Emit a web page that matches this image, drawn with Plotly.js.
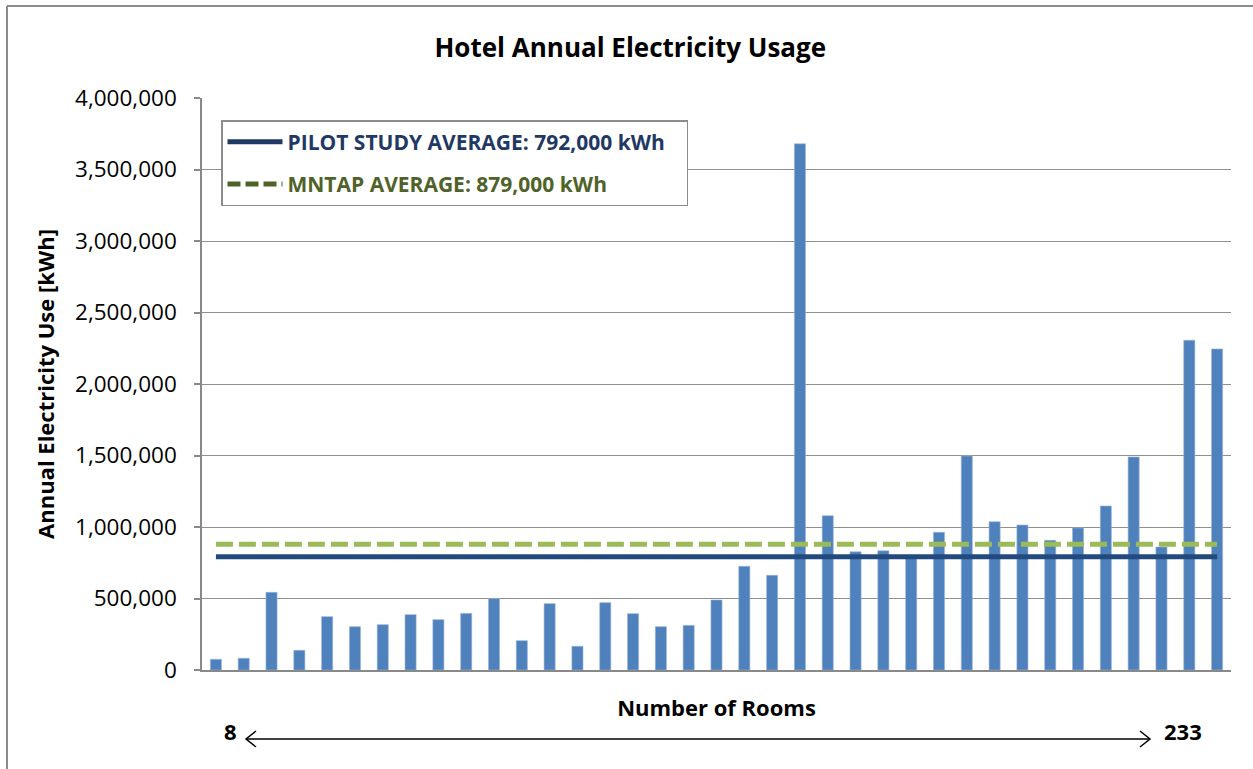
<!DOCTYPE html>
<html>
<head>
<meta charset="utf-8">
<script src="https://cdn.plot.ly/plotly-3.0.1.min.js"></script>
<style>
  html, body { margin: 0; padding: 0; background: #ffffff; }
  #chart { width: 1253px; height: 769px; }
</style>
</head>
<body>
<div id="chart"></div>
<script>
// ---- data ----
const hotels = ['Hotel 1','Hotel 2','Hotel 3','Hotel 4','Hotel 5','Hotel 6','Hotel 7','Hotel 8','Hotel 9','Hotel 10',
                'Hotel 11','Hotel 12','Hotel 13','Hotel 14','Hotel 15','Hotel 16','Hotel 17','Hotel 18','Hotel 19','Hotel 20',
                'Hotel 21','Hotel 22','Hotel 23','Hotel 24','Hotel 25','Hotel 26','Hotel 27','Hotel 28','Hotel 29','Hotel 30',
                'Hotel 31','Hotel 32','Hotel 33','Hotel 34','Hotel 35','Hotel 36','Hotel 37'];
const annualKWh = [75000, 82000, 543000, 138000, 373000, 303000, 317000, 387000, 352000, 396000,
                   499000, 205000, 464000, 166000, 471000, 394000, 303000, 312000, 490000, 725000,
                   662000, 3680000, 1079000, 827000, 834000, 790000, 963000, 1497000, 1037000, 1014000,
                   907000, 993000, 1147000, 1490000, 860000, 2306000, 2245000];
const pilotAverage = 792000;
const mntapAverage = 879000;
const pilotLabel = 'PILOT STUDY AVERAGE: 792,000 kWh';
const mntapLabel = 'MNTAP AVERAGE: 879,000 kWh';
const roomsMin = '8';
const roomsMax = '233';
const yTickVals = [0, 500000, 1000000, 1500000, 2000000, 2500000, 3000000, 3500000, 4000000];

// ---- layout helpers (pixel -> paper) ----
const L = 202, R = 1231, T = 98, B = 670;
const px = v => (v - L) / (R - L);
const py = v => (B - v) / (B - T);

const FONT = 'Open Sans, Liberation Sans, sans-serif';
const first = hotels[0], last = hotels[hotels.length - 1];

const traces = [
  {
    type: 'bar', x: hotels, y: annualKWh,
    marker: { color: '#4F81BD', line: { color: '#9DB7DA', width: 0.6 } },
    showlegend: false, hoverinfo: 'x+y'
  },
  {
    type: 'scatter', mode: 'lines', x: [first, last], y: [mntapAverage, mntapAverage],
    line: { color: '#9BBB59', width: 5, dash: '17px,6px' }, showlegend: false
  },
  {
    type: 'scatter', mode: 'lines', x: [first, last], y: [pilotAverage, pilotAverage],
    line: { color: '#234A7E', width: 5 }, showlegend: false
  },
  // legend entries
  {
    type: 'scatter', mode: 'lines', x: [first], y: [null], legendgroup: 'a',
    name: '<span style="color:#1F3864">' + pilotLabel + '</span>&nbsp;&nbsp;&nbsp;',
    line: { color: '#1F3864', width: 5 }
  },
  {
    type: 'scatter', mode: 'lines', x: [first], y: [null], legendgroup: 'b',
    name: '<span style="color:#4F6228">' + mntapLabel + '</span>',
    line: { color: '#4F6228', width: 5, dash: '13px,5px' }
  }
];

const shapes = [
  // outer chart border (left and top)
  { type: 'line', xref: 'paper', yref: 'paper', x0: px(7), x1: px(7), y0: py(6), y1: py(780),
    line: { color: '#8C8C8C', width: 2 } },
  { type: 'line', xref: 'paper', yref: 'paper', x0: px(7), x1: px(1260), y0: py(6), y1: py(6),
    line: { color: '#8C8C8C', width: 2 } },
  // double arrow
  { type: 'line', xref: 'paper', yref: 'paper', x0: px(246), x1: px(1150), y0: py(739), y1: py(739),
    line: { color: '#000000', width: 1.5 } },
  { type: 'path', xref: 'paper', yref: 'paper',
    path: 'M' + px(256) + ',' + py(731) + ' L' + px(246) + ',' + py(739) + ' L' + px(256) + ',' + py(747),
    line: { color: '#000000', width: 1.5 } },
  { type: 'path', xref: 'paper', yref: 'paper',
    path: 'M' + px(1140) + ',' + py(731) + ' L' + px(1150) + ',' + py(739) + ' L' + px(1140) + ',' + py(747),
    line: { color: '#000000', width: 1.5 } }
];

const annotations = [
  { xref: 'paper', yref: 'paper', x: px(230), y: py(731), text: '<b>' + roomsMin + '</b>', showarrow: false,
    xanchor: 'center', yanchor: 'middle', font: { family: FONT, size: 22, color: '#000' } },
  { xref: 'paper', yref: 'paper', x: px(1183), y: py(731), text: '<b>' + roomsMax + '</b>', showarrow: false,
    xanchor: 'center', yanchor: 'middle', font: { family: FONT, size: 22, color: '#000' } }
];

const layout = {
  width: 1253, height: 769,
  margin: { l: L, r: 1253 - R, t: T, b: 769 - B, pad: 0 },
  paper_bgcolor: '#ffffff', plot_bgcolor: '#ffffff',
  font: { family: FONT, color: '#000000' },
  title: {
    text: '<b>Hotel Annual Electricity Usage</b>',
    font: { family: FONT, size: 26, color: '#000' },
    xref: 'container', x: 0.503, xanchor: 'center',
    yref: 'container', y: 1 - 48 / 769, yanchor: 'middle'
  },
  bargap: 0.6,
  xaxis: {
    type: 'category', showticklabels: false, ticks: '', showgrid: false,
    showline: true, linecolor: '#898989', linewidth: 1.5, zeroline: false,
    title: { text: '<b>Number of Rooms</b>', font: { family: FONT, size: 22, color: '#000' }, standoff: 30 },
    automargin: false
  },
  yaxis: {
    range: [0, 4000000], tickvals: yTickVals, tickformat: ',d',
    showgrid: true, gridcolor: '#8F8F8F', gridwidth: 1.3,
    showline: true, linecolor: '#898989', linewidth: 1.5, zeroline: false,
    ticks: 'outside', ticklen: 6, tickcolor: '#898989', tickwidth: 1.5,
    ticklabelstandoff: 13,
    tickfont: { family: FONT, size: 22.5, color: '#000' },
    title: { text: '<b>Annual Electricity Use [kWh]</b>', font: { family: FONT, size: 22, color: '#000' }, standoff: 14 },
    automargin: false
  },
  showlegend: true,
  legend: {
    x: px(221), y: py(120), xanchor: 'left', yanchor: 'top',
    bgcolor: '#ffffff', bordercolor: '#8C8C8C', borderwidth: 1.5,
    font: { family: FONT, size: 21, weight: 'bold' },
    traceorder: 'grouped', tracegroupgap: 12, itemwidth: 55
  },
  shapes: shapes,
  annotations: annotations
};

Plotly.newPlot('chart', traces, layout, { displayModeBar: false, responsive: false });
</script>
</body>
</html>
